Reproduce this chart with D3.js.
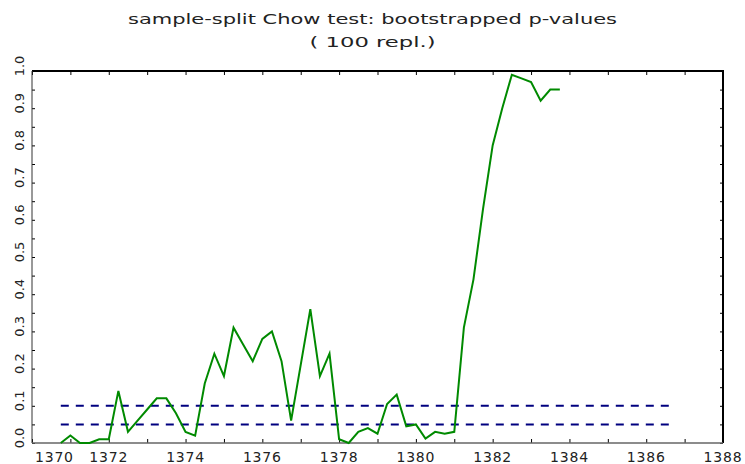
<!DOCTYPE html>
<html>
<head>
<meta charset="utf-8">
<script src="https://cdn.jsdelivr.net/npm/d3@7/dist/d3.min.js"></script>
<style>
  html, body { margin: 0; padding: 0; background: #fff; }
  svg { display: block; }
</style>
</head>
<body>
<div id="chart"></div>
<script>
// ---- data ----
const titleLines = ["sample-split Chow test: bootstrapped p-values", "( 100 repl.)"];
const periods = [
  1370.75, 1371.00, 1371.25, 1371.50, 1371.75, 1372.00, 1372.25, 1372.50,
  1372.75, 1373.00, 1373.25, 1373.50, 1373.75, 1374.00, 1374.25, 1374.50,
  1374.75, 1375.00, 1375.25, 1375.50, 1375.75, 1376.00, 1376.25, 1376.50,
  1376.75, 1377.00, 1377.25, 1377.50, 1377.75, 1378.00, 1378.25, 1378.50,
  1378.75, 1379.00, 1379.25, 1379.50, 1379.75, 1380.00, 1380.25, 1380.50,
  1380.75, 1381.00, 1381.25, 1381.50, 1381.75, 1382.00, 1382.25, 1382.50,
  1382.75, 1383.00, 1383.25, 1383.50, 1383.75
];
const pValues = [
  0.00, 0.02, 0.00, 0.00, 0.01, 0.01, 0.14, 0.03,
  0.06, 0.09, 0.12, 0.12, 0.08, 0.03, 0.02, 0.16,
  0.24, 0.18, 0.31, 0.265, 0.22, 0.28, 0.30, 0.22,
  0.06, 0.21, 0.36, 0.18, 0.24, 0.01, 0.00, 0.03,
  0.04, 0.025, 0.105, 0.13, 0.045, 0.05, 0.012, 0.03,
  0.025, 0.03, 0.31, 0.44, 0.63, 0.80, 0.90, 0.99,
  0.98, 0.97, 0.92, 0.95, 0.95
];
const critLevels = [0.10, 0.05];
const critSpan = [1370.75, 1386.7];
const xDomain = [1370, 1388];
const xLabelTicks = [1370, 1372, 1374, 1376, 1378, 1380, 1382, 1384, 1386, 1388];
const xMinorTicks = [1370, 1371, 1372, 1373, 1374, 1375, 1376, 1377, 1378, 1379, 1380, 1381, 1382, 1383, 1384, 1385, 1386, 1387, 1388];
const yLabelTicks = [0.0, 0.1, 0.2, 0.3, 0.4, 0.5, 0.6, 0.7, 0.8, 0.9, 1.0];
const yMinorTicks = [0.0, 0.05, 0.1, 0.15, 0.2, 0.25, 0.3, 0.35, 0.4, 0.45, 0.5, 0.55, 0.6, 0.65, 0.7, 0.75, 0.8, 0.85, 0.9, 0.95, 1.0];

// ---- layout ----
const W = 745, H = 464;
const m = { left: 32, right: 22, top: 71, bottom: 21 };
const iw = W - m.left - m.right, ih = H - m.top - m.bottom;
const font = "'DejaVu Sans', sans-serif";

const svg = d3.select("#chart").append("svg").attr("width", W).attr("height", H);

const x = d3.scaleLinear().domain(xDomain).range([m.left, m.left + iw]);
const y = d3.scaleLinear().domain([0, 1]).range([m.top + ih, m.top]);

// title
svg.append("text").attr("x", W / 2).attr("y", 24)
  .attr("text-anchor", "middle").attr("font-family", font).attr("font-size", 14)
  .attr("fill", "#222").attr("textLength", 489).attr("lengthAdjust", "spacingAndGlyphs")
  .text(titleLines[0]);
svg.append("text").attr("x", W / 2).attr("y", 47)
  .attr("text-anchor", "middle").attr("font-family", font).attr("font-size", 14)
  .attr("fill", "#222").attr("textLength", 126).attr("lengthAdjust", "spacingAndGlyphs")
  .text(titleLines[1]);

// axes via d3 axis generators (ticks only, inward)
const xb = d3.axisBottom(x).tickValues(xMinorTicks).tickSize(-4).tickFormat("");
const xt = d3.axisTop(x).tickValues(xMinorTicks).tickSize(-4).tickFormat("");
const yl = d3.axisLeft(y).tickValues(yMinorTicks).tickSize(-3).tickFormat("");
const yr = d3.axisRight(y).tickValues(yMinorTicks).tickSize(-3).tickFormat("");

function styleAxis(g) {
  g.select(".domain").remove();
  g.selectAll(".tick line").attr("stroke", "#000").attr("stroke-width", 1);
}
svg.append("g").attr("transform", `translate(0,${m.top + ih})`).call(xb).call(styleAxis);
svg.append("g").attr("transform", `translate(0,${m.top})`).call(xt).call(styleAxis);
svg.append("g").attr("transform", `translate(${m.left},0)`).call(yl).call(styleAxis);
svg.append("g").attr("transform", `translate(${m.left + iw},0)`).call(yr).call(styleAxis);

// frame: top/right thick black, left/bottom thin grey
svg.append("line").attr("x1", m.left).attr("x2", m.left + iw + 1).attr("y1", m.top).attr("y2", m.top)
  .attr("stroke", "#000").attr("stroke-width", 2);
svg.append("line").attr("x1", m.left + iw).attr("x2", m.left + iw).attr("y1", m.top).attr("y2", m.top + ih)
  .attr("stroke", "#000").attr("stroke-width", 2);
svg.append("line").attr("x1", m.left).attr("x2", m.left).attr("y1", m.top).attr("y2", m.top + ih)
  .attr("stroke", "#333").attr("stroke-width", 1);
svg.append("line").attr("x1", m.left).attr("x2", m.left + iw).attr("y1", m.top + ih).attr("y2", m.top + ih)
  .attr("stroke", "#666").attr("stroke-width", 1.5);

// x labels
svg.append("g").selectAll("text").data(xLabelTicks).join("text")
  .attr("x", (d, i) => i === 0 ? x(d) + 3 : x(d))
  .attr("y", m.top + ih + 19)
  .attr("text-anchor", (d, i) => i === 0 ? "start" : "middle")
  .attr("font-family", font).attr("font-size", 14).attr("letter-spacing", 0.8)
  .attr("fill", "#222")
  .text(d => d);

// y labels (rotated)
svg.append("g").selectAll("text").data(yLabelTicks).join("text")
  .attr("transform", d => `translate(${m.left - 8},${y(d) - 5}) rotate(-90)`)
  .attr("text-anchor", "middle")
  .attr("font-family", font).attr("font-size", 13)
  .attr("fill", "#222")
  .text(d => d3.format(".1f")(d));

// critical value lines
svg.append("g").selectAll("line").data(critLevels).join("line")
  .attr("x1", x(critSpan[0])).attr("x2", x(critSpan[1]))
  .attr("y1", d => y(d)).attr("y2", d => y(d))
  .attr("stroke", "#00007f").attr("stroke-width", 2)
  .attr("stroke-dasharray", "8,7");

// p-value line
const pts = periods.map((p, i) => [p, pValues[i]]);
svg.append("path").datum(pts)
  .attr("fill", "none").attr("stroke", "#008a00").attr("stroke-width", 2)
  .attr("stroke-linejoin", "miter")
  .attr("d", d3.line().x(d => x(d[0])).y(d => y(d[1])));
</script>
</body>
</html>
